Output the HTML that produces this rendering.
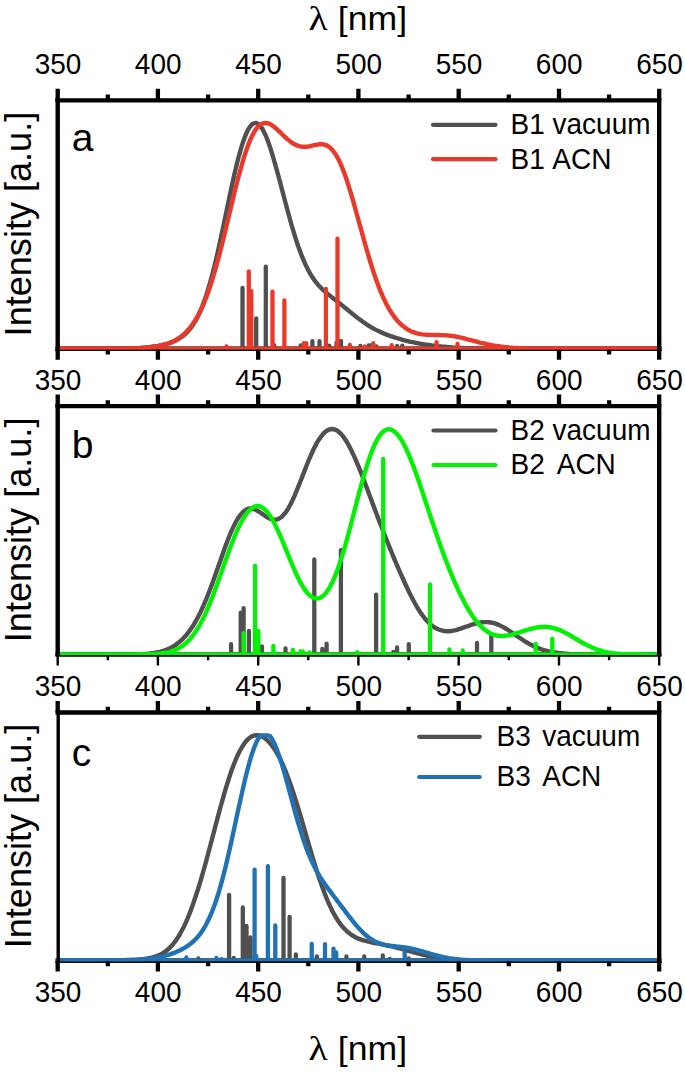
<!DOCTYPE html>
<html><head><meta charset="utf-8"><title>spectra</title>
<style>
html,body{margin:0;padding:0;background:#fff;}
body{width:685px;height:1072px;position:relative;overflow:hidden;font-family:"Liberation Sans",sans-serif;}
</style></head><body>
<svg width="685" height="1072" viewBox="0 0 685 1072" style="position:absolute;left:0;top:0">
<rect width="685" height="1072" fill="#fff"/>
<defs>
<clipPath id="cpa"><rect x="55.5" y="98.2" width="605.9" height="251.6"/></clipPath>
<clipPath id="cpb"><rect x="55.5" y="403.9" width="605.9" height="251.3"/></clipPath>
<clipPath id="cpc"><rect x="55.5" y="710.3" width="605.9" height="251.3"/></clipPath>
</defs>
<path d="M55.5 348.8 H661.4" stroke="#000" stroke-width="4.4" fill="none"/>
<g clip-path="url(#cpa)" fill="none">
<path d="M242.5 348.8 V288.0 M256.2 348.8 V318.3 M265.8 348.8 V266.6 M274.2 348.8 V345.2 M300.7 348.8 V345.3 M312.4 348.8 V341.2 M319.5 348.8 V341.2 M329.3 348.8 V345.6 M336.5 348.8 V342.8 M341.0 348.8 V340.8 M360.4 348.8 V345.8 M368.6 348.8 V345.4 M370.7 348.8 V345.4 M376.4 348.8 V346.3 M397.2 348.8 V345.8 M402.3 348.8 V345.6 M57.7 348.8 H659.2" stroke="#505050" stroke-width="4.3" stroke-linecap="round"/>
<path d="M57.7 348.8 109.8 348.8 115.8 348.7 119.9 348.7 121.9 348.6 123.9 348.6 125.9 348.6 127.9 348.5 129.9 348.5 131.9 348.4 133.9 348.3 135.9 348.2 137.9 348.1 139.9 348.0 141.9 347.8 143.9 347.7 145.9 347.5 147.9 347.3 149.9 347.1 151.9 346.8 153.9 346.5 155.9 346.2 157.9 345.9 160.0 345.5 162.0 345.1 164.0 344.6 166.0 344.1 168.0 343.5 170.0 342.8 172.0 342.1 174.0 341.3 176.0 340.3 178.0 339.3 180.0 338.0 182.0 336.7 184.0 335.1 186.0 333.3 188.0 331.2 190.0 328.9 192.0 326.2 194.0 323.2 196.0 319.8 198.1 315.9 200.1 311.7 202.1 306.9 204.1 301.6 206.1 295.8 208.1 289.5 210.1 282.7 212.1 275.4 214.1 267.5 216.1 259.3 218.1 250.6 220.1 241.6 222.1 232.2 224.1 222.7 226.1 213.1 228.1 203.5 230.1 193.9 232.1 184.6 234.1 175.5 236.1 166.9 238.1 158.8 240.2 151.4 242.2 144.6 244.2 138.7 246.2 133.6 248.2 129.5 250.2 126.4 252.2 124.2 254.2 123.1 256.2 123.0 258.2 123.9 260.2 125.8 262.2 128.6 264.2 132.3 266.2 136.7 268.2 141.9 270.2 147.7 272.2 154.0 274.2 160.8 276.2 167.9 278.2 175.3 280.3 182.9 282.3 190.6 284.3 198.2 286.3 205.8 288.3 213.3 290.3 220.5 292.3 227.5 294.3 234.2 296.3 240.5 298.3 246.5 300.3 252.0 302.3 257.2 304.3 261.9 306.3 266.3 308.3 270.3 310.3 273.9 312.3 277.1 314.3 280.0 316.3 282.7 318.3 285.1 320.4 287.3 322.4 289.3 324.4 291.1 326.4 292.9 328.4 294.5 330.4 296.1 332.4 297.7 334.4 299.3 336.4 300.8 338.4 302.4 340.4 304.0 342.4 305.6 344.4 307.2 346.4 308.8 348.4 310.5 350.4 312.1 352.4 313.8 354.4 315.4 356.4 317.0 358.4 318.5 360.5 320.0 362.5 321.5 364.5 322.9 366.5 324.3 368.5 325.6 370.5 326.8 372.5 328.0 374.5 329.1 376.5 330.1 378.5 331.1 380.5 332.0 382.5 332.9 384.5 333.8 386.5 334.6 388.5 335.3 390.5 336.1 392.5 336.7 394.5 337.4 396.5 338.0 398.6 338.6 400.6 339.2 402.6 339.8 404.6 340.3 406.6 340.8 408.6 341.3 410.6 341.8 412.6 342.2 414.6 342.6 416.6 343.0 418.6 343.4 420.6 343.8 422.6 344.1 424.6 344.4 426.6 344.8 428.6 345.0 430.6 345.3 432.6 345.6 434.6 345.8 436.6 346.0 438.6 346.3 440.7 346.5 442.7 346.7 444.7 346.8 446.7 347.0 448.7 347.2 450.7 347.3 452.7 347.5 454.7 347.6 456.7 347.7 458.7 347.8 460.7 347.9 462.7 348.0 464.7 348.1 466.7 348.2 468.7 348.3 470.7 348.3 472.7 348.4 474.7 348.5 476.7 348.5 478.8 348.6 480.8 348.6 482.8 348.6 486.8 348.7 490.8 348.7 496.8 348.8 506.8 348.8 659.2 348.8" stroke="#505050" stroke-width="4.4" stroke-linejoin="round"/>
<path d="M248.8 348.8 V271.3 M251.3 348.8 V291.1 M272.5 348.8 V291.7 M284.4 348.8 V300.3 M325.9 348.8 V289.0 M337.5 348.8 V238.7 M226.5 348.8 V346.3 M303.8 348.8 V343.2 M306.2 348.8 V343.2 M349.8 348.8 V344.8 M364.5 348.8 V346.3 M373.3 348.8 V343.2 M391.7 348.8 V345.2 M436.5 348.8 V342.2 M457.5 348.8 V343.8 M57.7 348.8 H659.2" stroke="#e8392b" stroke-width="4.3" stroke-linecap="round"/>
<path d="M57.7 348.8 111.8 348.8 117.8 348.7 121.9 348.7 123.9 348.7 125.9 348.6 127.9 348.6 129.9 348.5 131.9 348.5 133.9 348.4 135.9 348.3 137.9 348.2 139.9 348.1 141.9 348.0 143.9 347.9 145.9 347.7 147.9 347.5 149.9 347.3 151.9 347.0 153.9 346.8 155.9 346.4 157.9 346.1 160.0 345.7 162.0 345.2 164.0 344.7 166.0 344.1 168.0 343.5 170.0 342.7 172.0 341.9 174.0 340.9 176.0 339.9 178.0 338.7 180.0 337.3 182.0 335.8 184.0 334.1 186.0 332.2 188.0 330.1 190.0 327.7 192.0 325.1 194.0 322.2 196.0 319.0 198.1 315.5 200.1 311.6 202.1 307.3 204.1 302.7 206.1 297.7 208.1 292.3 210.1 286.5 212.1 280.3 214.1 273.7 216.1 266.7 218.1 259.4 220.1 251.8 222.1 244.0 224.1 235.9 226.1 227.6 228.1 219.2 230.1 210.8 232.1 202.4 234.1 194.1 236.1 186.0 238.1 178.1 240.2 170.6 242.2 163.4 244.2 156.7 246.2 150.5 248.2 144.9 250.2 139.9 252.2 135.6 254.2 131.9 256.2 128.8 258.2 126.5 260.2 124.7 262.2 123.6 264.2 123.0 266.2 123.0 268.2 123.4 270.2 124.2 272.2 125.4 274.2 126.9 276.2 128.6 278.2 130.5 280.3 132.4 282.3 134.4 284.3 136.3 286.3 138.2 288.3 139.9 290.3 141.5 292.3 143.0 294.3 144.2 296.3 145.2 298.3 145.9 300.3 146.4 302.3 146.7 304.3 146.8 306.3 146.7 308.3 146.5 310.3 146.1 312.3 145.6 314.3 145.2 316.3 144.8 318.3 144.4 320.4 144.3 322.4 144.3 324.4 144.6 326.4 145.3 328.4 146.4 330.4 147.9 332.4 150.0 334.4 152.5 336.4 155.6 338.4 159.2 340.4 163.4 342.4 168.1 344.4 173.3 346.4 179.0 348.4 185.1 350.4 191.6 352.4 198.4 354.4 205.5 356.4 212.7 358.4 220.0 360.5 227.4 362.5 234.7 364.5 241.9 366.5 249.0 368.5 255.9 370.5 262.5 372.5 268.9 374.5 274.9 376.5 280.7 378.5 286.1 380.5 291.1 382.5 295.8 384.5 300.2 386.5 304.2 388.5 307.9 390.5 311.3 392.5 314.3 394.5 317.1 396.5 319.7 398.6 321.9 400.6 324.0 402.6 325.8 404.6 327.4 406.6 328.8 408.6 330.0 410.6 331.0 412.6 331.9 414.6 332.6 416.6 333.3 418.6 333.7 420.6 334.1 422.6 334.4 424.6 334.6 426.6 334.8 428.6 334.9 430.6 334.9 432.6 334.9 436.6 335.0 438.6 335.0 440.7 335.1 442.7 335.1 444.7 335.2 446.7 335.4 448.7 335.6 450.7 335.8 452.7 336.1 454.7 336.4 456.7 336.7 458.7 337.1 460.7 337.6 462.7 338.0 464.7 338.5 466.7 339.1 468.7 339.6 470.7 340.1 472.7 340.7 474.7 341.2 476.7 341.7 478.8 342.3 480.8 342.8 482.8 343.2 484.8 343.7 486.8 344.2 488.8 344.6 490.8 345.0 492.8 345.4 494.8 345.7 496.8 346.0 498.8 346.3 500.8 346.6 502.8 346.8 504.8 347.1 506.8 347.3 508.8 347.5 510.8 347.6 512.8 347.8 514.8 347.9 516.8 348.0 518.9 348.1 520.9 348.2 522.9 348.3 524.9 348.4 526.9 348.5 528.9 348.5 530.9 348.6 532.9 348.6 534.9 348.6 538.9 348.7 542.9 348.7 548.9 348.8 561.0 348.8 659.2 348.8" stroke="#e8392b" stroke-width="4.4" stroke-linejoin="round"/>
</g>
<rect x="55.5" y="349.8" width="605.9" height="1.2" fill="#000"/>
<path d="M659.2 98.2 V351.0 M55.5 100.4 H661.4" stroke="#000" stroke-width="4.4" fill="none"/>
<path d="M57.7 98.2 V351.0" stroke="#000" stroke-width="4.4" fill="none"/>
<path d="M57.7 100.4 V88.8 M107.8 100.4 V94.6 M157.9 100.4 V88.8 M208.1 100.4 V94.6 M258.2 100.4 V88.8 M308.3 100.4 V94.6 M358.4 100.4 V88.8 M408.6 100.4 V94.6 M458.7 100.4 V88.8 M508.8 100.4 V94.6 M559.0 100.4 V88.8 M609.1 100.4 V94.6 M659.2 100.4 V88.8" stroke="#000" stroke-width="4.3" fill="none"/>
<path d="M57.7 349.8 V359.8 M107.8 349.8 V354.4 M157.9 349.8 V359.8 M208.1 349.8 V354.4 M258.2 349.8 V359.8 M308.3 349.8 V354.4 M358.4 349.8 V359.8 M408.6 349.8 V354.4 M458.7 349.8 V359.8 M508.8 349.8 V354.4 M559.0 349.8 V359.8 M609.1 349.8 V354.4 M659.2 349.8 V359.8" stroke="#000" stroke-width="4.3" fill="none"/>
<path d="M55.5 654.6 H661.4" stroke="#000" stroke-width="4.4" fill="none"/>
<g clip-path="url(#cpb)" fill="none">
<path d="M231.1 654.6 V644.2 M240.7 654.6 V612.6 M243.6 654.6 V608.1 M248.9 654.6 V631.0 M262.0 654.6 V646.4 M285.5 654.6 V648.4 M314.3 654.6 V559.5 M340.9 654.6 V550.2 M376.1 654.6 V594.6 M322.3 654.6 V649.0 M326.6 654.6 V643.6 M397.1 654.6 V647.4 M408.8 654.6 V644.2 M393.4 654.6 V651.9 M477.0 654.6 V642.9 M491.3 654.6 V635.1 M57.7 654.6 H659.2" stroke="#505050" stroke-width="4.3" stroke-linecap="round"/>
<path d="M57.7 654.6 119.9 654.6 125.9 654.5 129.9 654.5 131.9 654.5 133.9 654.4 135.9 654.4 137.9 654.3 139.9 654.2 141.9 654.1 143.9 654.0 145.9 653.9 147.9 653.7 149.9 653.5 151.9 653.2 153.9 653.0 155.9 652.6 157.9 652.2 160.0 651.8 162.0 651.2 164.0 650.6 166.0 649.9 168.0 649.1 170.0 648.2 172.0 647.1 174.0 646.0 176.0 644.6 178.0 643.1 180.0 641.5 182.0 639.7 184.0 637.6 186.0 635.4 188.0 632.9 190.0 630.2 192.0 627.3 194.0 624.1 196.0 620.7 198.1 616.9 200.1 613.0 202.1 608.7 204.1 604.2 206.1 599.5 208.1 594.5 210.1 589.3 212.1 584.0 214.1 578.5 216.1 572.8 218.1 567.1 220.1 561.4 222.1 555.7 224.1 550.1 226.1 544.6 228.1 539.3 230.1 534.3 232.1 529.6 234.1 525.4 236.1 521.5 238.1 518.1 240.2 515.2 242.2 512.8 244.2 511.0 246.2 509.6 248.2 508.8 250.2 508.5 252.2 508.7 254.2 509.2 256.2 510.1 258.2 511.2 260.2 512.5 262.2 513.9 264.2 515.3 266.2 516.7 268.2 517.9 270.2 518.9 272.2 519.5 274.2 519.8 276.2 519.7 278.2 519.0 280.3 517.9 282.3 516.3 284.3 514.1 286.3 511.5 288.3 508.3 290.3 504.7 292.3 500.7 294.3 496.3 296.3 491.6 298.3 486.7 300.3 481.7 302.3 476.6 304.3 471.4 306.3 466.3 308.3 461.3 310.3 456.6 312.3 452.0 314.3 447.8 316.3 443.9 318.3 440.5 320.4 437.4 322.4 434.8 324.4 432.6 326.4 431.0 328.4 429.8 330.4 429.2 332.4 429.0 334.4 429.4 336.4 430.2 338.4 431.5 340.4 433.3 342.4 435.6 344.4 438.2 346.4 441.3 348.4 444.7 350.4 448.5 352.4 452.6 354.4 456.9 356.4 461.5 358.4 466.4 360.5 471.4 362.5 476.5 364.5 481.7 366.5 487.0 368.5 492.4 370.5 497.8 372.5 503.1 374.5 508.5 376.5 513.8 378.5 519.1 380.5 524.3 382.5 529.5 384.5 534.6 386.5 539.7 388.5 544.7 390.5 549.6 392.5 554.5 394.5 559.4 396.5 564.1 398.6 568.8 400.6 573.5 402.6 578.0 404.6 582.5 406.6 586.8 408.6 591.0 410.6 595.1 412.6 599.0 414.6 602.7 416.6 606.3 418.6 609.6 420.6 612.7 422.6 615.5 424.6 618.1 426.6 620.5 428.6 622.6 430.6 624.5 432.6 626.1 434.6 627.5 436.6 628.6 438.6 629.5 440.7 630.2 442.7 630.7 444.7 631.0 446.7 631.2 448.7 631.2 450.7 631.0 452.7 630.7 454.7 630.3 456.7 629.8 458.7 629.2 460.7 628.6 462.7 627.9 464.7 627.2 466.7 626.5 468.7 625.8 470.7 625.1 472.7 624.4 474.7 623.8 476.7 623.2 478.8 622.8 480.8 622.4 482.8 622.2 484.8 622.1 486.8 622.1 488.8 622.2 490.8 622.5 492.8 622.9 494.8 623.4 496.8 624.1 498.8 624.9 500.8 625.9 502.8 626.9 504.8 628.0 506.8 629.2 508.8 630.5 510.8 631.8 512.8 633.2 514.8 634.6 516.8 636.0 518.9 637.3 520.9 638.7 522.9 640.0 524.9 641.3 526.9 642.5 528.9 643.6 530.9 644.7 532.9 645.7 534.9 646.7 536.9 647.6 538.9 648.4 540.9 649.1 542.9 649.8 544.9 650.4 546.9 650.9 548.9 651.4 550.9 651.8 552.9 652.2 554.9 652.5 556.9 652.8 559.0 653.1 561.0 653.3 563.0 653.5 565.0 653.7 567.0 653.8 569.0 654.0 571.0 654.1 573.0 654.1 575.0 654.2 577.0 654.3 579.0 654.3 581.0 654.4 583.0 654.4 585.0 654.5 589.0 654.5 593.0 654.5 601.1 654.6 659.2 654.6" stroke="#505050" stroke-width="4.4" stroke-linejoin="round"/>
<path d="M243.6 654.6 V633.1 M255.0 654.6 V565.6 M258.3 654.6 V631.0 M273.4 654.6 V645.9 M383.2 654.6 V458.8 M292.9 654.6 V649.9 M300.4 654.6 V651.5 M302.9 654.6 V651.5 M309.6 654.6 V652.4 M357.3 654.6 V652.1 M430.0 654.6 V584.4 M449.4 654.6 V649.4 M462.7 654.6 V650.5 M535.7 654.6 V643.9 M552.3 654.6 V638.6 M57.7 654.6 H659.2" stroke="#04f004" stroke-width="4.3" stroke-linecap="round"/>
<path d="M57.7 654.6 131.9 654.6 137.9 654.5 141.9 654.5 143.9 654.4 145.9 654.4 147.9 654.3 149.9 654.3 151.9 654.2 153.9 654.1 155.9 653.9 157.9 653.8 160.0 653.6 162.0 653.3 164.0 653.0 166.0 652.7 168.0 652.3 170.0 651.8 172.0 651.2 174.0 650.4 176.0 649.6 178.0 648.7 180.0 647.5 182.0 646.2 184.0 644.8 186.0 643.1 188.0 641.2 190.0 639.0 192.0 636.6 194.0 634.0 196.0 631.0 198.1 627.8 200.1 624.3 202.1 620.6 204.1 616.5 206.1 612.2 208.1 607.6 210.1 602.7 212.1 597.7 214.1 592.5 216.1 587.1 218.1 581.5 220.1 575.9 222.1 570.3 224.1 564.6 226.1 559.0 228.1 553.4 230.1 548.0 232.1 542.7 234.1 537.7 236.1 532.9 238.1 528.4 240.2 524.3 242.2 520.5 244.2 517.0 246.2 514.1 248.2 511.5 250.2 509.4 252.2 507.8 254.2 506.7 256.2 506.1 258.2 506.0 260.2 506.5 262.2 507.4 264.2 508.9 266.2 510.8 268.2 513.2 270.2 516.1 272.2 519.3 274.2 523.0 276.2 527.0 278.2 531.3 280.3 535.8 282.3 540.5 284.3 545.4 286.3 550.3 288.3 555.3 290.3 560.2 292.3 565.0 294.3 569.6 296.3 574.1 298.3 578.3 300.3 582.2 302.3 585.7 304.3 588.9 306.3 591.7 308.3 594.0 310.3 595.9 312.3 597.2 314.3 598.1 316.3 598.5 318.3 598.3 320.4 597.7 322.4 596.4 324.4 594.7 326.4 592.3 328.4 589.5 330.4 586.1 332.4 582.1 334.4 577.7 336.4 572.7 338.4 567.3 340.4 561.4 342.4 555.0 344.4 548.3 346.4 541.3 348.4 534.0 350.4 526.5 352.4 518.8 354.4 511.0 356.4 503.3 358.4 495.6 360.5 488.0 362.5 480.7 364.5 473.7 366.5 467.0 368.5 460.7 370.5 454.9 372.5 449.6 374.5 444.9 376.5 440.8 378.5 437.3 380.5 434.4 382.5 432.2 384.5 430.6 386.5 429.6 388.5 429.2 390.5 429.4 392.5 430.2 394.5 431.6 396.5 433.5 398.6 435.9 400.6 438.7 402.6 442.0 404.6 445.7 406.6 449.8 408.6 454.3 410.6 459.1 412.6 464.1 414.6 469.4 416.6 474.9 418.6 480.6 420.6 486.5 422.6 492.4 424.6 498.5 426.6 504.6 428.6 510.7 430.6 516.8 432.6 522.8 434.6 528.8 436.6 534.7 438.6 540.5 440.7 546.2 442.7 551.8 444.7 557.2 446.7 562.5 448.7 567.6 450.7 572.6 452.7 577.5 454.7 582.1 456.7 586.6 458.7 591.0 460.7 595.1 462.7 599.1 464.7 602.9 466.7 606.6 468.7 610.0 470.7 613.2 472.7 616.3 474.7 619.1 476.7 621.7 478.8 624.0 480.8 626.2 482.8 628.1 484.8 629.8 486.8 631.3 488.8 632.5 490.8 633.6 492.8 634.4 494.8 635.0 496.8 635.5 498.8 635.8 500.8 635.9 502.8 635.9 504.8 635.8 506.8 635.6 508.8 635.2 510.8 634.8 512.8 634.3 514.8 633.7 516.8 633.1 518.9 632.5 520.9 631.9 522.9 631.2 524.9 630.6 526.9 630.0 528.9 629.4 530.9 628.8 532.9 628.3 534.9 627.9 536.9 627.5 538.9 627.2 540.9 627.0 542.9 626.9 544.9 626.8 546.9 626.9 548.9 627.1 550.9 627.5 552.9 627.9 554.9 628.4 556.9 629.1 559.0 629.8 561.0 630.6 563.0 631.6 565.0 632.6 567.0 633.6 569.0 634.7 571.0 635.9 573.0 637.1 575.0 638.3 577.0 639.5 579.0 640.7 581.0 641.8 583.0 643.0 585.0 644.1 587.0 645.1 589.0 646.1 591.0 647.0 593.0 647.9 595.0 648.7 597.0 649.5 599.1 650.1 601.1 650.7 603.1 651.3 605.1 651.8 607.1 652.2 609.1 652.6 611.1 652.9 613.1 653.2 615.1 653.4 617.1 653.6 619.1 653.8 621.1 654.0 623.1 654.1 625.1 654.2 627.1 654.3 629.1 654.3 631.1 654.4 633.1 654.4 635.1 654.5 639.2 654.5 643.2 654.6 651.2 654.6 659.2 654.6" stroke="#04f004" stroke-width="4.4" stroke-linejoin="round"/>
</g>
<rect x="55.5" y="655.2" width="605.9" height="0.8" fill="#000"/>
<path d="M659.2 403.9 V656.0 M55.5 406.1 H661.4" stroke="#000" stroke-width="4.4" fill="none"/>
<path d="M57.7 403.9 V656.0" stroke="#000" stroke-width="4.4" fill="none"/>
<path d="M57.7 406.1 V394.5 M107.8 406.1 V400.3 M157.9 406.1 V394.5 M208.1 406.1 V400.3 M258.2 406.1 V394.5 M308.3 406.1 V400.3 M358.4 406.1 V394.5 M408.6 406.1 V400.3 M458.7 406.1 V394.5 M508.8 406.1 V400.3 M559.0 406.1 V394.5 M609.1 406.1 V400.3 M659.2 406.1 V394.5" stroke="#000" stroke-width="4.3" fill="none"/>
<path d="M57.7 655.2 V665.6 M107.8 655.2 V660.2 M157.9 655.2 V665.6 M208.1 655.2 V660.2 M258.2 655.2 V665.6 M308.3 655.2 V660.2 M358.4 655.2 V665.6 M408.6 655.2 V660.2 M458.7 655.2 V665.6 M508.8 655.2 V660.2 M559.0 655.2 V665.6 M609.1 655.2 V660.2 M659.2 655.2 V665.6" stroke="#000" stroke-width="2.4" fill="none"/>
<path d="M55.5 960.6 H661.4" stroke="#000" stroke-width="4.4" fill="none"/>
<g clip-path="url(#cpc)" fill="none">
<path d="M229.1 960.6 V894.8 M242.8 960.6 V907.4 M246.5 960.6 V925.8 M250.6 960.6 V937.5 M283.5 960.6 V877.8 M289.6 960.6 V916.8 M295.9 960.6 V954.4 M198.4 960.6 V958.4 M233.8 960.6 V957.9 M316.8 960.6 V956.5 M346.4 960.6 V956.5 M364.2 960.6 V956.5 M382.8 960.6 V955.5 M389.7 960.6 V958.9 M408.8 960.6 V958.4 M57.7 960.6 H659.2" stroke="#505050" stroke-width="4.3" stroke-linecap="round"/>
<path d="M57.7 960.6 81.8 960.6 89.8 960.5 95.8 960.5 99.8 960.5 103.8 960.4 107.8 960.4 111.8 960.3 113.8 960.3 115.8 960.2 117.8 960.2 119.9 960.2 121.9 960.1 123.9 960.1 125.9 960.0 127.9 960.0 129.9 959.9 131.9 959.8 133.9 959.7 135.9 959.6 137.9 959.5 139.9 959.4 141.9 959.2 143.9 959.0 145.9 958.7 147.9 958.4 149.9 958.0 151.9 957.6 153.9 957.0 155.9 956.4 157.9 955.6 160.0 954.7 162.0 953.6 164.0 952.4 166.0 951.0 168.0 949.3 170.0 947.5 172.0 945.3 174.0 942.9 176.0 940.3 178.0 937.3 180.0 934.0 182.0 930.3 184.0 926.4 186.0 922.1 188.0 917.4 190.0 912.4 192.0 907.0 194.0 901.3 196.0 895.3 198.1 889.0 200.1 882.4 202.1 875.6 204.1 868.5 206.1 861.3 208.1 853.8 210.1 846.3 212.1 838.7 214.1 831.1 216.1 823.5 218.1 815.9 220.1 808.5 222.1 801.3 224.1 794.2 226.1 787.4 228.1 781.0 230.1 774.8 232.1 769.0 234.1 763.7 236.1 758.7 238.1 754.3 240.2 750.3 242.2 746.7 244.2 743.7 246.2 741.1 248.2 739.0 250.2 737.4 252.2 736.2 254.2 735.5 256.2 735.2 258.2 735.2 260.2 735.7 262.2 736.5 264.2 737.7 266.2 739.3 268.2 741.1 270.2 743.4 272.2 745.9 274.2 748.7 276.2 751.9 278.2 755.5 280.3 759.3 282.3 763.5 284.3 768.1 286.3 773.0 288.3 778.2 290.3 783.7 292.3 789.5 294.3 795.6 296.3 801.9 298.3 808.4 300.3 815.1 302.3 821.9 304.3 828.8 306.3 835.8 308.3 842.7 310.3 849.6 312.3 856.4 314.3 863.0 316.3 869.4 318.3 875.7 320.4 881.6 322.4 887.3 324.4 892.7 326.4 897.8 328.4 902.5 330.4 906.9 332.4 911.0 334.4 914.7 336.4 918.2 338.4 921.3 340.4 924.1 342.4 926.6 344.4 928.8 346.4 930.8 348.4 932.6 350.4 934.1 352.4 935.5 354.4 936.7 356.4 937.7 358.4 938.6 360.5 939.4 362.5 940.1 364.5 940.7 366.5 941.2 368.5 941.7 370.5 942.1 372.5 942.6 374.5 943.0 376.5 943.3 378.5 943.7 380.5 944.1 382.5 944.5 384.5 944.9 386.5 945.3 388.5 945.8 390.5 946.2 392.5 946.7 394.5 947.1 396.5 947.6 398.6 948.2 400.6 948.7 402.6 949.2 404.6 949.8 406.6 950.3 408.6 950.9 410.6 951.4 412.6 952.0 414.6 952.5 416.6 953.1 418.6 953.6 420.6 954.2 422.6 954.7 424.6 955.2 426.6 955.6 428.6 956.1 430.6 956.5 432.6 956.9 434.6 957.3 436.6 957.7 438.6 958.0 440.7 958.3 442.7 958.6 444.7 958.8 446.7 959.1 448.7 959.3 450.7 959.5 452.7 959.6 454.7 959.8 456.7 959.9 458.7 960.0 460.7 960.1 462.7 960.2 464.7 960.3 466.7 960.3 468.7 960.4 470.7 960.4 472.7 960.5 476.7 960.5 480.8 960.5 486.8 960.6 659.2 960.6" stroke="#505050" stroke-width="4.4" stroke-linejoin="round"/>
<path d="M254.6 960.6 V869.6 M267.9 960.6 V866.1 M275.3 960.6 V925.4 M186.4 960.6 V957.5 M216.4 960.6 V957.9 M221.5 960.6 V959.1 M256.3 960.6 V955.9 M311.7 960.6 V943.8 M325.0 960.6 V944.1 M333.5 960.6 V948.6 M336.2 960.6 V952.4 M404.7 960.6 V952.4 M57.7 960.6 H659.2" stroke="#2171b5" stroke-width="4.3" stroke-linecap="round"/>
<path d="M57.7 960.6 111.8 960.6 117.8 960.5 121.9 960.5 123.9 960.5 125.9 960.4 127.9 960.4 129.9 960.3 131.9 960.2 133.9 960.2 135.9 960.1 137.9 960.0 139.9 959.8 141.9 959.7 143.9 959.5 145.9 959.3 147.9 959.1 149.9 958.8 151.9 958.6 153.9 958.2 155.9 957.9 157.9 957.5 160.0 957.1 162.0 956.6 164.0 956.1 166.0 955.5 168.0 954.9 170.0 954.3 172.0 953.6 174.0 952.9 176.0 952.1 178.0 951.2 180.0 950.3 182.0 949.2 184.0 948.1 186.0 946.9 188.0 945.6 190.0 944.2 192.0 942.5 194.0 940.8 196.0 938.7 198.1 936.5 200.1 934.0 202.1 931.2 204.1 928.0 206.1 924.5 208.1 920.6 210.1 916.3 212.1 911.5 214.1 906.3 216.1 900.5 218.1 894.3 220.1 887.6 222.1 880.4 224.1 872.7 226.1 864.6 228.1 856.1 230.1 847.3 232.1 838.3 234.1 829.0 236.1 819.6 238.1 810.3 240.2 801.0 242.2 791.9 244.2 783.1 246.2 774.8 248.2 766.9 250.2 759.7 252.2 753.2 254.2 747.5 256.2 742.6 258.2 738.7 260.2 735.7 262.2 735.4 268.2 735.4 270.2 736.3 272.2 739.3 274.2 743.2 276.2 747.8 278.2 753.2 280.3 759.1 282.3 765.6 284.3 772.5 286.3 779.6 288.3 787.0 290.3 794.4 292.3 801.8 294.3 809.1 296.3 816.3 298.3 823.3 300.3 829.9 302.3 836.3 304.3 842.2 306.3 847.9 308.3 853.1 310.3 857.9 312.3 862.4 314.3 866.6 316.3 870.5 318.3 874.0 320.4 877.4 322.4 880.5 324.4 883.5 326.4 886.3 328.4 889.1 330.4 891.7 332.4 894.4 334.4 897.0 336.4 899.6 338.4 902.3 340.4 904.9 342.4 907.6 344.4 910.2 346.4 912.9 348.4 915.5 350.4 918.1 352.4 920.7 354.4 923.2 356.4 925.5 358.4 927.8 360.5 930.0 362.5 932.1 364.5 934.0 366.5 935.7 368.5 937.3 370.5 938.7 372.5 940.0 374.5 941.1 376.5 942.1 378.5 943.0 380.5 943.7 382.5 944.3 384.5 944.8 386.5 945.2 388.5 945.5 390.5 945.8 392.5 946.0 394.5 946.2 396.5 946.5 398.6 946.7 400.6 946.9 402.6 947.1 404.6 947.4 406.6 947.7 408.6 948.0 410.6 948.4 412.6 948.8 414.6 949.3 416.6 949.8 418.6 950.3 420.6 950.8 422.6 951.4 424.6 952.0 426.6 952.6 428.6 953.2 430.6 953.8 432.6 954.3 434.6 954.9 436.6 955.4 438.6 956.0 440.7 956.5 442.7 956.9 444.7 957.3 446.7 957.7 448.7 958.1 450.7 958.4 452.7 958.7 454.7 959.0 456.7 959.2 458.7 959.4 460.7 959.6 462.7 959.8 464.7 959.9 466.7 960.0 468.7 960.1 470.7 960.2 472.7 960.3 474.7 960.4 476.7 960.4 478.8 960.4 480.8 960.5 484.8 960.5 488.8 960.6 496.8 960.6 659.2 960.6" stroke="#2171b5" stroke-width="4.4" stroke-linejoin="round"/>
</g>
<rect x="55.5" y="961.6" width="605.9" height="1.2" fill="#000"/>
<path d="M659.2 710.3 V962.8 M55.5 712.5 H661.4" stroke="#000" stroke-width="4.4" fill="none"/>
<path d="M58.2 710.3 V962.8" stroke="#000" stroke-width="3.4" fill="none"/>
<path d="M57.7 712.5 V700.9 M107.8 712.5 V706.7 M157.9 712.5 V700.9 M208.1 712.5 V706.7 M258.2 712.5 V700.9 M308.3 712.5 V706.7 M358.4 712.5 V700.9 M408.6 712.5 V706.7 M458.7 712.5 V700.9 M508.8 712.5 V706.7 M559.0 712.5 V700.9 M609.1 712.5 V706.7 M659.2 712.5 V700.9" stroke="#000" stroke-width="4.3" fill="none"/>
<path d="M57.7 961.6 V971.6 M107.8 961.6 V966.2 M157.9 961.6 V971.6 M208.1 961.6 V966.2 M258.2 961.6 V971.6 M308.3 961.6 V966.2 M358.4 961.6 V971.6 M408.6 961.6 V966.2 M458.7 961.6 V971.6 M508.8 961.6 V966.2 M559.0 961.6 V971.6 M609.1 961.6 V966.2 M659.2 961.6 V971.6" stroke="#000" stroke-width="4.3" fill="none"/>
</svg>
<svg width="685" height="1072" viewBox="0 0 685 1072" style="position:absolute;left:0;top:0" font-family="Liberation Sans, sans-serif" fill="#000">
<text transform="translate(58.0 73.9) scale(1 1.045)" font-size="28.0" text-anchor="middle">350</text>
<text transform="translate(158.2 73.9) scale(1 1.045)" font-size="28.0" text-anchor="middle">400</text>
<text transform="translate(258.5 73.9) scale(1 1.045)" font-size="28.0" text-anchor="middle">450</text>
<text transform="translate(358.8 73.9) scale(1 1.045)" font-size="28.0" text-anchor="middle">500</text>
<text transform="translate(459.0 73.9) scale(1 1.045)" font-size="28.0" text-anchor="middle">550</text>
<text transform="translate(559.2 73.9) scale(1 1.045)" font-size="28.0" text-anchor="middle">600</text>
<text transform="translate(659.5 73.9) scale(1 1.045)" font-size="28.0" text-anchor="middle">650</text>
<text transform="translate(58.0 389.8) scale(1 1.045)" font-size="28.0" text-anchor="middle">350</text>
<text transform="translate(158.2 389.8) scale(1 1.045)" font-size="28.0" text-anchor="middle">400</text>
<text transform="translate(258.5 389.8) scale(1 1.045)" font-size="28.0" text-anchor="middle">450</text>
<text transform="translate(358.8 389.8) scale(1 1.045)" font-size="28.0" text-anchor="middle">500</text>
<text transform="translate(459.0 389.8) scale(1 1.045)" font-size="28.0" text-anchor="middle">550</text>
<text transform="translate(559.2 389.8) scale(1 1.045)" font-size="28.0" text-anchor="middle">600</text>
<text transform="translate(659.5 389.8) scale(1 1.045)" font-size="28.0" text-anchor="middle">650</text>
<text transform="translate(58.0 695.5) scale(1 1.045)" font-size="28.0" text-anchor="middle">350</text>
<text transform="translate(158.2 695.5) scale(1 1.045)" font-size="28.0" text-anchor="middle">400</text>
<text transform="translate(258.5 695.5) scale(1 1.045)" font-size="28.0" text-anchor="middle">450</text>
<text transform="translate(358.8 695.5) scale(1 1.045)" font-size="28.0" text-anchor="middle">500</text>
<text transform="translate(459.0 695.5) scale(1 1.045)" font-size="28.0" text-anchor="middle">550</text>
<text transform="translate(559.2 695.5) scale(1 1.045)" font-size="28.0" text-anchor="middle">600</text>
<text transform="translate(659.5 695.5) scale(1 1.045)" font-size="28.0" text-anchor="middle">650</text>
<text transform="translate(58.0 1002.0) scale(1 1.045)" font-size="28.0" text-anchor="middle">350</text>
<text transform="translate(158.2 1002.0) scale(1 1.045)" font-size="28.0" text-anchor="middle">400</text>
<text transform="translate(258.5 1002.0) scale(1 1.045)" font-size="28.0" text-anchor="middle">450</text>
<text transform="translate(358.8 1002.0) scale(1 1.045)" font-size="28.0" text-anchor="middle">500</text>
<text transform="translate(459.0 1002.0) scale(1 1.045)" font-size="28.0" text-anchor="middle">550</text>
<text transform="translate(559.2 1002.0) scale(1 1.045)" font-size="28.0" text-anchor="middle">600</text>
<text transform="translate(659.5 1002.0) scale(1 1.045)" font-size="28.0" text-anchor="middle">650</text>
<text transform="translate(308.6 30.0) scale(1.14 1)" font-family="Liberation Serif, serif" font-size="34.7">λ</text>
<text x="337.8" y="30.0" font-size="33.6" textLength="69.3" lengthAdjust="spacingAndGlyphs">[nm]</text>
<text transform="translate(308.6 1060.0) scale(1.14 1)" font-family="Liberation Serif, serif" font-size="34.7">λ</text>
<text x="337.8" y="1060.0" font-size="33.6" textLength="69.3" lengthAdjust="spacingAndGlyphs">[nm]</text>
<text transform="translate(31 224.1) rotate(-90)" font-size="36.1" text-anchor="middle">Intensity [a.u.]</text>
<text x="71.8" y="150.8" font-size="39">a</text>
<text transform="translate(31 529.9) rotate(-90)" font-size="36.1" text-anchor="middle">Intensity [a.u.]</text>
<text x="71.8" y="457.5" font-size="39">b</text>
<text transform="translate(31 836.0) rotate(-90)" font-size="36.1" text-anchor="middle">Intensity [a.u.]</text>
<text x="71.8" y="765.5" font-size="39">c</text>
<path d="M433.0 124.8 H495.5" stroke="#505050" stroke-width="4.2" stroke-linecap="round"/>
<path d="M433.0 159.2 H495.5" stroke="#e8392b" stroke-width="4.2" stroke-linecap="round"/>
<text transform="translate(510.5 134.2) scale(1 1.035)" font-size="28">B1 vacuum</text>
<text transform="translate(510.5 168.5) scale(1 1.035)" font-size="28">B1<tspan dx="7.6">ACN</tspan></text>
<path d="M433.5 430.5 H495.5" stroke="#505050" stroke-width="4.2" stroke-linecap="round"/>
<path d="M433.5 465.0 H495.5" stroke="#04f004" stroke-width="4.2" stroke-linecap="round"/>
<text transform="translate(510.5 439.7) scale(1 1.035)" font-size="28">B2 vacuum</text>
<text transform="translate(510.5 474.2) scale(1 1.035)" font-size="28">B2<tspan dx="12">ACN</tspan></text>
<path d="M419.2 736.8 H479.8" stroke="#505050" stroke-width="4.2" stroke-linecap="round"/>
<path d="M419.2 777.0 H479.8" stroke="#2171b5" stroke-width="4.2" stroke-linecap="round"/>
<text transform="translate(496.5 746.0) scale(1 1.035)" font-size="28">B3<tspan dx="11.5">vacuum</tspan></text>
<text transform="translate(496.5 785.6) scale(1 1.035)" font-size="28">B3<tspan dx="11.5">ACN</tspan></text>
</svg>
</body></html>
